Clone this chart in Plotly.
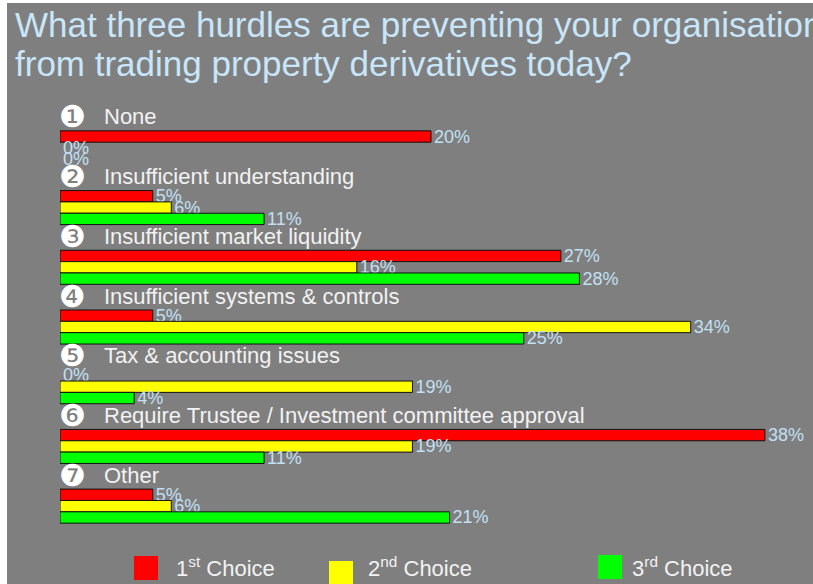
import plotly.graph_objects as go

# ---------------- data ----------------
categories = [
    "None",
    "Insufficient understanding",
    "Insufficient market liquidity",
    "Insufficient systems & controls",
    "Tax & accounting issues",
    "Require Trustee / Investment committee approval",
    "Other",
]
markers = ["❶", "❷", "❸", "❹", "❺", "❻", "❼"]
first_choice = [20, 5, 27, 5, 0, 38, 5]
second_choice = [0, 6, 16, 34, 19, 19, 6]
third_choice = [0, 11, 28, 25, 4, 11, 21]
series_names = ["1<sup>st</sup> Choice", "2<sup>nd</sup> Choice", "3<sup>rd</sup> Choice"]
series_colors = ["#ff0000", "#ffff00", "#00ff00"]
title_lines = [
    "What three hurdles are preventing your organisation",
    "from trading property derivatives today?",
]

# ---------------- layout constants ----------------
W, H = 813, 584
ML, MR, MT, MB = 60, 11, 118, 48
PW, PH = W - ML - MR, H - MT - MB
BG = "#7f7f7f"
LABEL_BLUE = "#c2e0f4"
TITLE_BLUE = "#c8e6f8"
FONT = "Liberation Sans, Arial, sans-serif"


def px_x(px):
    return (px - ML) / PW


def px_y(py):
    return (H - MB - py) / PH


fig = go.Figure()
for name, vals, col in zip(series_names, [first_choice, second_choice, third_choice], series_colors):
    fig.add_trace(go.Bar(
        y=categories, x=vals, orientation="h", name=name,
        marker=dict(color=col, line=dict(color="#111111", width=[1 if v else 0 for v in vals])),
        texttemplate="%{x}%", textposition="outside", constraintext="none",
        textfont=dict(color=LABEL_BLUE, size=18, family=FONT),
        cliponaxis=False, showlegend=False,
    ))

annotations = []
# title
for i, line in enumerate(title_lines):
    annotations.append(dict(
        text=line, xref="paper", yref="paper", x=px_x(13), y=px_y(25 + 38 * i),
        xanchor="left", yanchor="middle", showarrow=False,
        font=dict(family=FONT, size=35, color=TITLE_BLUE),
    ))
# category labels
for cat, mk in zip(categories, markers):
    annotations.append(dict(
        text=mk, xref="x", yref="y", x=0, y=cat, xanchor="left", yanchor="middle",
        xshift=-3, yshift=31, showarrow=False,
        font=dict(family="DejaVu Sans", size=30, color="#ffffff"),
    ))
    annotations.append(dict(
        text=cat, xref="x", yref="y", x=0, y=cat, xanchor="left", yanchor="middle",
        xshift=42, yshift=31, showarrow=False,
        font=dict(family=FONT, size=22, color="#f2f2f2"),
    ))

shapes = [
    # white frame strips (left and top)
    dict(type="rect", xref="paper", yref="paper", x0=px_x(0), x1=px_x(7), y0=px_y(H), y1=px_y(0),
         fillcolor="#ffffff", line=dict(width=0), layer="above"),
    dict(type="rect", xref="paper", yref="paper", x0=px_x(0), x1=px_x(W), y0=px_y(3), y1=px_y(0),
         fillcolor="#ffffff", line=dict(width=0), layer="above"),
]
# manual legend
legend_pos = [(134, 556, 174), (329, 561, 366), (598, 555, 630)]
for (sx, sy, tx), name, col in zip(legend_pos, series_names, series_colors):
    shapes.append(dict(type="rect", xref="paper", yref="paper",
                       x0=px_x(sx), x1=px_x(sx + 24), y0=px_y(sy + 24), y1=px_y(sy),
                       fillcolor=col, line=dict(width=0)))
    annotations.append(dict(
        text=name, xref="paper", yref="paper", x=px_x(tx), y=px_y(567),
        xanchor="left", yanchor="middle", showarrow=False,
        font=dict(family=FONT, size=22, color="#f2f2f2"),
    ))

fig.update_layout(
    width=W, height=H,
    margin=dict(l=ML, r=MR, t=MT, b=MB, pad=0),
    paper_bgcolor=BG, plot_bgcolor="rgba(0,0,0,0)",
    barmode="group", bargap=0.43, bargroupgap=0,
    xaxis=dict(range=[0, PW / 18.55], visible=False, fixedrange=True),
    yaxis=dict(range=[len(categories) - 0.5, -0.5], autorange=False, visible=False, fixedrange=True),
    annotations=annotations, shapes=shapes,
    showlegend=False,
)

fig.write_html(
    "out.html",
    config={"displayModeBar": False},
    post_script="document.body.style.margin='0';document.body.style.overflow='hidden';",
)
